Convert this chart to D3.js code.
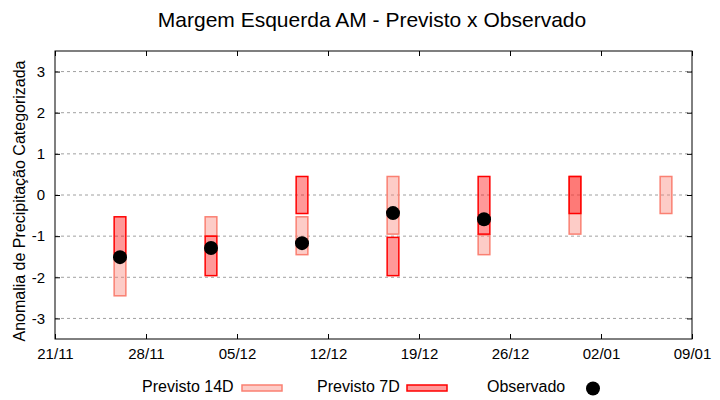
<!DOCTYPE html>
<html>
<head>
<meta charset="utf-8">
<script src="https://cdn.jsdelivr.net/npm/d3@7"></script>
<style>
  body { margin: 0; background: #fff; }
  text { font-family: "Liberation Sans", Arial, sans-serif; fill: #000; }
</style>
</head>
<body>
<svg id="chart" width="720" height="400"></svg>
<script>
// datas das semanas (centro das barras)
let dates = ['2022-11-26', '2022-12-03', '2022-12-10', '2022-12-17', '2022-12-24', '2022-12-31', '2023-01-07']
// previsto 14 dias (topo / base)
let p14Top = [-1.55, -0.53, -0.53, 0.45, -0.97, 0.45, 0.45]
let p14Bot = [-2.45, -1.0, -1.45, -0.95, -1.45, -0.95, -0.45]
// previsto 7 dias (topo / base)
let p7Top = [-0.53, -1.0, 0.45, -1.03, 0.45, 0.45, null]
let p7Bot = [-1.45, -1.96, -0.45, -1.96, -0.95, -0.45, null]
// observado
let obs = [-1.51, -1.29, -1.17, -0.44, -0.59, null, null]
let yTicks = [-3, -2, -1, 0, 1, 2, 3]

let parse = d3.timeParse('%Y-%m-%d')
let svg = d3.select('#chart')

let mLeft = 55, mRight = 692, mTop = 51, mBottom = 339

let x = d3.scaleTime()
  .domain([parse('2022-11-21'), parse('2023-01-09')])
  .range([mLeft, mRight])
let y = d3.scaleLinear().domain([-3.5, 3.5]).range([mBottom, mTop])

let xTicks = d3.range(0, 8).map(i => d3.timeDay.offset(parse('2022-11-21'), i * 7))

// grade
svg.append('g').selectAll('line')
  .data(yTicks)
  .enter()
  .append('line')
  .attr('x1', mLeft).attr('x2', mRight)
  .attr('y1', d => y(d)).attr('y2', d => y(d))
  .attr('stroke', '#a0a0a0')
  .attr('stroke-dasharray', '3,3')

// eixos (ticks para dentro)
svg.append('g').attr('transform', `translate(0,${mBottom})`)
  .call(d3.axisBottom(x).tickValues(xTicks).tickFormat(d3.timeFormat('%d/%m')).tickSizeInner(-5).tickSizeOuter(0).tickPadding(9))
svg.append('g').attr('transform', `translate(0,${mTop})`)
  .call(d3.axisTop(x).tickValues(xTicks).tickFormat('').tickSizeInner(-5).tickSizeOuter(0))
svg.append('g').attr('transform', `translate(${mLeft},0)`)
  .call(d3.axisLeft(y).tickValues(yTicks).tickFormat(d => String(d)).tickSizeInner(-5).tickSizeOuter(0).tickPadding(10))
svg.append('g').attr('transform', `translate(${mRight},0)`)
  .call(d3.axisRight(y).tickValues(yTicks).tickFormat('').tickSizeInner(-5).tickSizeOuter(0))

svg.selectAll('.domain').remove()
svg.selectAll('.tick text').style('font-size', '15px').style('font-family', '"Liberation Sans", Arial, sans-serif')
svg.selectAll('.tick line').attr('stroke', '#000')

svg.append('rect')
  .attr('x', mLeft).attr('y', mTop)
  .attr('width', mRight - mLeft).attr('height', mBottom - mTop)
  .attr('fill', 'none').attr('stroke', '#000')

let half = 0.45 * 864e5

let bars = (tops, bots, fill, stroke) => {
  svg.append('g').selectAll('rect')
    .data(dates.map((d, i) => ({ d: parse(d), t: tops[i], b: bots[i] })).filter(e => e.t !== null))
    .enter()
    .append('rect')
    .attr('x', e => x(new Date(+e.d - half)))
    .attr('width', e => x(new Date(+e.d + half)) - x(new Date(+e.d - half)))
    .attr('y', e => y(e.t))
    .attr('height', e => y(e.b) - y(e.t))
    .attr('fill', fill)
    .attr('fill-opacity', 0.4)
    .attr('stroke', stroke)
    .attr('stroke-width', 1.5)
}
bars(p14Top, p14Bot, 'salmon', 'salmon')
bars(p7Top, p7Bot, 'red', 'red')

svg.append('g').selectAll('circle')
  .data(dates.map((d, i) => ({ d: parse(d), v: obs[i] })).filter(e => e.v !== null))
  .enter()
  .append('circle')
  .attr('cx', e => x(e.d))
  .attr('cy', e => y(e.v))
  .attr('r', 7)
  .attr('fill', '#000')

// titulo
svg.append('text')
  .attr('x', 372).attr('y', 27)
  .attr('text-anchor', 'middle')
  .style('font-size', '21px')
  .text('Margem Esquerda AM - Previsto x Observado')

svg.append('text')
  .attr('transform', 'translate(25,201) rotate(-90)')
  .attr('text-anchor', 'middle')
  .style('font-size', '16px')
  .text('Anomalia de Precipitação Categorizada')

// legenda
let legend = svg.append('g')
legend.append('text').attr('x', 142).attr('y', 392).style('font-size', '16px').text('Previsto 14D')
legend.append('rect').attr('x', 242).attr('y', 385).attr('width', 40).attr('height', 6)
  .attr('fill', 'salmon').attr('fill-opacity', 0.4).attr('stroke', 'salmon').attr('stroke-width', 1.5)
legend.append('text').attr('x', 317).attr('y', 392).style('font-size', '16px').text('Previsto 7D')
legend.append('rect').attr('x', 407).attr('y', 385).attr('width', 40).attr('height', 6)
  .attr('fill', 'red').attr('fill-opacity', 0.4).attr('stroke', 'red').attr('stroke-width', 1.5)
legend.append('text').attr('x', 487).attr('y', 392).style('font-size', '16px').text('Observado')
legend.append('circle').attr('cx', 593).attr('cy', 388.5).attr('r', 7).attr('fill', '#000')
</script>
</body>
</html>
